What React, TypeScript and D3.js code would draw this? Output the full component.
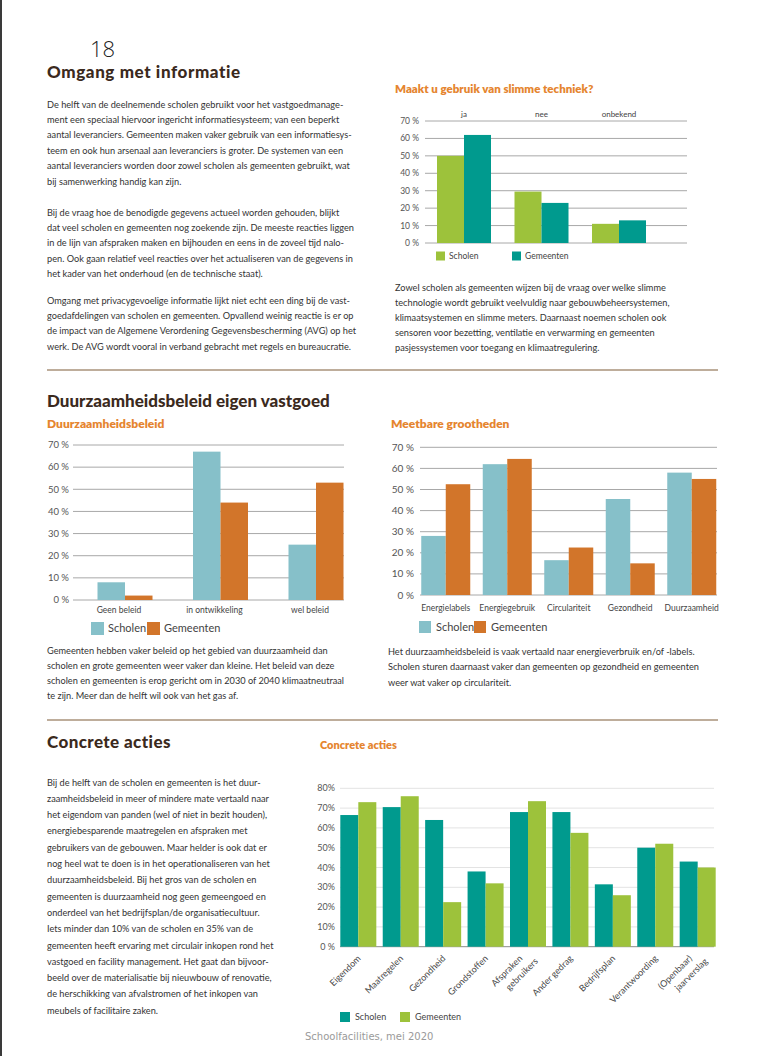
import React from 'react';
import * as d3 from 'd3';

// ---------- DATA ----------
const C1_CATS = ['ja', 'nee', 'onbekend'];
const C1_SCHOLEN = [50, 29.5, 11];
const C1_GEMEENTEN = [62, 23, 13];
const C1_TICKS = [0, 10, 20, 30, 40, 50, 60, 70];

const C2_CATS = ['Geen beleid', 'in ontwikkeling', 'wel beleid'];
const C2_SCHOLEN = [8, 67, 25];
const C2_GEMEENTEN = [2, 44, 53];
const C2_TICKS = [0, 10, 20, 30, 40, 50, 60, 70];

const C3_CATS = ['Energielabels', 'Energiegebruik', 'Circulariteit', 'Gezondheid', 'Duurzaamheid'];
const C3_SCHOLEN = [28, 62, 16.5, 45.5, 58];
const C3_GEMEENTEN = [52.5, 64.5, 22.5, 15, 55];
const C3_TICKS = [0, 10, 20, 30, 40, 50, 60, 70];

const C4_CATS = [['Eigendom'], ['Maatregelen'], ['Gezondheid'], ['Grondstoffen'], ['Afspraken', 'gebruikers'], ['Ander gedrag'], ['Bedrijfsplan'], ['Verantwoording'], ['(Openbaar)', 'jaarverslag']];
const C4_SCHOLEN = [66.5, 70.5, 64, 38, 68, 68, 31.5, 50, 43];
const C4_GEMEENTEN = [73, 76, 22.5, 32, 73.5, 57.5, 26, 52, 40];
const C4_TICKS = [0, 10, 20, 30, 40, 50, 60, 70, 80];
const C4_TICK_LABELS = ['0 %', '10%', '20%', '30%', '40%', '50%', '60%', '70%', '80%'];

const SERIES = ['Scholen', 'Gemeenten'];

const P1 = [
  'De helft van de deelnemende scholen gebruikt voor het vastgoedmanage-',
  'ment een speciaal hiervoor ingericht informatiesysteem; van een beperkt',
  'aantal leveranciers. Gemeenten maken vaker gebruik van een informatiesys-',
  'teem en ook hun arsenaal aan leveranciers is groter. De systemen van een',
  'aantal leveranciers worden door zowel scholen als gemeenten gebruikt, wat',
  'bij samenwerking handig kan zijn.',
];
const P2 = [
  'Bij de vraag hoe de benodigde gegevens actueel worden gehouden, blijkt',
  'dat veel scholen en gemeenten nog zoekende zijn. De meeste reacties liggen',
  'in de lijn van afspraken maken en bijhouden en eens in de zoveel tijd nalo-',
  'pen. Ook gaan relatief veel reacties over het actualiseren van de gegevens in',
  'het kader van het onderhoud (en de technische staat).',
];
const P3 = [
  'Omgang met privacygevoelige informatie lijkt niet echt een ding bij de vast-',
  'goedafdelingen van scholen en gemeenten. Opvallend weinig reactie is er op',
  'de impact van de Algemene Verordening Gegevensbescherming (AVG) op het',
  'werk. De AVG wordt vooral in verband gebracht met regels en bureaucratie.',
];
const P4 = [
  'Zowel scholen als gemeenten wijzen bij de vraag over welke slimme',
  'technologie wordt gebruikt veelvuldig naar gebouwbeheersystemen,',
  'klimaatsystemen en slimme meters. Daarnaast noemen scholen ook',
  'sensoren voor bezetting, ventilatie en verwarming en gemeenten',
  'pasjessystemen voor toegang en klimaatregulering.',
];
const P5 = [
  'Gemeenten hebben vaker beleid op het gebied van duurzaamheid dan',
  'scholen en grote gemeenten weer vaker dan kleine. Het beleid van deze',
  'scholen en gemeenten is erop gericht om in 2030 of 2040 klimaatneutraal',
  'te zijn. Meer dan de helft wil ook van het gas af.',
];
const P6 = [
  'Het duurzaamheidsbeleid is vaak vertaald naar energieverbruik en/of -labels.',
  'Scholen sturen daarnaast vaker dan gemeenten op gezondheid en gemeenten',
  'weer wat vaker op circulariteit.',
];
const P7 = [
  'Bij de helft van de scholen en gemeenten is het duur-',
  'zaamheidsbeleid in meer of mindere mate vertaald naar',
  'het eigendom van panden (wel of niet in bezit houden),',
  'energiebesparende maatregelen en afspraken met',
  'gebruikers van de gebouwen. Maar helder is ook dat er',
  'nog heel wat te doen is in het operationaliseren van het',
  'duurzaamheidsbeleid. Bij het gros van de scholen en',
  'gemeenten is duurzaamheid nog geen gemeengoed en',
  'onderdeel van het bedrijfsplan/de organisatiecultuur.',
  'Iets minder dan 10% van de scholen en 35% van de',
  'gemeenten heeft ervaring met circulair inkopen rond het',
  'vastgoed en facility management. Het gaat dan bijvoor-',
  'beeld over de materialisatie bij nieuwbouw of renovatie,',
  'de herschikking van afvalstromen of het inkopen van',
  'meubels of facilitaire zaken.',
];

// ---------- STYLE ----------
const BODY_FONT = 'Lato, "Open Sans", sans-serif';
const HEAD_FONT = 'Lato, "Open Sans", sans-serif';
const TEXT_COL = '#333';
const ORANGE_TITLE = '#e5852f';
const HEAD_COL = '#3b2a1d';
const LIME = '#9dc23b';
const TEAL = '#009a8e';
const LTEAL = '#86c0c9';
const ORANGE = '#d2752a';

function Para({ lines, x, y, lh, size = 9.2 }: { lines: string[]; x: number; y: number; lh: number; size?: number }) {
  return (
    <text fontFamily={BODY_FONT} fontSize={size} fill={TEXT_COL}>
      {lines.map((l, i) => (
        <tspan key={i} x={x} y={y + i * lh}>{l}</tspan>
      ))}
    </text>
  );
}

type ChartProps = {
  cats: string[];
  a: number[];
  b: number[];
  colA: string;
  colB: string;
  bandRange: [number, number];
  barW: number;
  yMax: number;
  yRange: [number, number];
  gridX: [number, number];
  ticks: number[];
  tickLabels: string[];
  tickX: number;
  tickSize: number;
  gridCol: string;
  baseCol: string;
};

function Bars(p: ChartProps) {
  const x = d3.scaleBand<string>().domain(p.cats).range(p.bandRange).paddingInner(0).paddingOuter(0);
  const y = d3.scaleLinear().domain([0, p.yMax]).range(p.yRange);
  const half = x.step() / 2;
  return (
    <g>
      {p.ticks.map((t, i) => (
        <g key={t}>
          <line x1={p.gridX[0]} x2={p.gridX[1]} y1={y(t)} y2={y(t)} stroke={t === 0 ? p.baseCol : p.gridCol} strokeWidth={1} />
          <text x={p.tickX} y={y(t) + p.tickSize * 0.35} textAnchor="end" fontFamily={BODY_FONT} fontSize={p.tickSize} fill="#555">{p.tickLabels[i]}</text>
        </g>
      ))}
      {p.cats.map((c, i) => {
        const cx = (x(c) as number) + half;
        return (
          <g key={c}>
            <rect x={cx - p.barW} y={y(p.a[i])} width={p.barW} height={y(0) - y(p.a[i])} fill={p.colA} />
            <rect x={cx} y={y(p.b[i])} width={p.barW} height={y(0) - y(p.b[i])} fill={p.colB} />
          </g>
        );
      })}
    </g>
  );
}

function Legend({ x1, x2, y, sq, size, colA, colB, gap }: { x1: number; x2: number; y: number; sq: number; size: number; colA: string; colB: string; gap: number }) {
  return (
    <g fontFamily={BODY_FONT} fontSize={size} fill="#444">
      <rect x={x1} y={y} width={sq} height={sq} fill={colA} />
      <text x={x1 + sq + gap} y={y + sq / 2 + size * 0.35}>{SERIES[0]}</text>
      <rect x={x2} y={y} width={sq} height={sq} fill={colB} />
      <text x={x2 + sq + gap} y={y + sq / 2 + size * 0.35}>{SERIES[1]}</text>
    </g>
  );
}

function pct(t: number) {
  return `${t} %`;
}

export default function App() {
  const x1 = d3.scaleBand<string>().domain(C1_CATS).range([425.25, 657.75]);
  const x2 = d3.scaleBand<string>().domain(C2_CATS).range([77.25, 363.75]);
  const x3 = d3.scaleBand<string>().domain(C3_CATS).range([415, 722.5]);
  const c4keys = C4_CATS.map((c) => c.join(' '));
  const x4 = d3.scaleBand<string>().domain(c4keys).range([337.1, 718.9]);

  return (
    <svg width={757} height={1056} style={{ position: 'absolute', left: 0, top: 0, background: '#fff' }}>
      <rect x={0} y={0} width={757} height={1056} fill="#fff" />
      <rect x={0} y={0} width={2} height={1056} fill="#3a3a3a" />

      {/* Page number */}
      <text x={90} y={57} fontFamily='"Open Sans", sans-serif' fontWeight={300} fontSize={22} fill="#222">18</text>

      {/* Section 1 */}
      <text x={47} y={78} fontFamily={HEAD_FONT} fontWeight={900} fontSize={17} letterSpacing={0.6} fill={HEAD_COL}>Omgang met informatie</text>
      <Para lines={P1} x={47} y={107.5} lh={15.4} />
      <Para lines={P2} x={47} y={215.5} lh={15.4} />
      <Para lines={P3} x={47} y={303.5} lh={15.4} />

      <text x={395} y={93} fontFamily={HEAD_FONT} fontWeight={800} fontSize={11.5} fill={ORANGE_TITLE}>Maakt u gebruik van slimme techniek?</text>
      <Bars cats={C1_CATS} a={C1_SCHOLEN} b={C1_GEMEENTEN} colA={LIME} colB={TEAL} bandRange={[425.25, 657.75]} barW={27}
        yMax={70} yRange={[243, 121]} gridX={[425, 687]} ticks={C1_TICKS} tickLabels={C1_TICKS.map(pct)} tickX={419} tickSize={8.5}
        gridCol="#a8a8a8" baseCol="#a8a8a8" />
      {C1_CATS.map((c) => (
        <text key={c} x={(x1(c) as number) + x1.step() / 2} y={116.5} textAnchor="middle" fontFamily={BODY_FONT} fontSize={8} fill="#444">{c}</text>
      ))}
      <Legend x1={436} x2={512} y={251.5} sq={9} size={8.5} colA={LIME} colB={TEAL} gap={4} />
      <Para lines={P4} x={395} y={290.5} lh={15.2} />

      <line x1={47} x2={718} y1={370} y2={370} stroke="#a8927a" strokeWidth={1.5} />

      {/* Section 2 */}
      <text x={47} y={407} fontFamily={HEAD_FONT} fontWeight={900} fontSize={17} fill={HEAD_COL}>Duurzaamheidsbeleid eigen vastgoed</text>
      <text x={47} y={427.5} fontFamily={HEAD_FONT} fontWeight={800} fontSize={12} fill={ORANGE_TITLE}>Duurzaamheidsbeleid</text>
      <text x={391} y={427.5} fontFamily={HEAD_FONT} fontWeight={800} fontSize={12} fill={ORANGE_TITLE}>Meetbare grootheden</text>

      <Bars cats={C2_CATS} a={C2_SCHOLEN} b={C2_GEMEENTEN} colA={LTEAL} colB={ORANGE} bandRange={[77.25, 363.75]} barW={27.5}
        yMax={70} yRange={[600, 445]} gridX={[73, 344]} ticks={C2_TICKS} tickLabels={C2_TICKS.map(pct)} tickX={69} tickSize={9.5}
        gridCol="#a8a8a8" baseCol="#a8a8a8" />
      {C2_CATS.map((c) => (
        <text key={c} x={(x2(c) as number) + x2.step() / 2 - 6} y={612.5} textAnchor="middle" fontFamily={BODY_FONT} fontSize={8.5} fill="#444">{c}</text>
      ))}
      <Legend x1={91} x2={147} y={622} sq={13} size={11} colA={LTEAL} colB={ORANGE} gap={4} />
      <Para lines={P5} x={47} y={653.5} lh={15.3} />

      <Bars cats={C3_CATS} a={C3_SCHOLEN} b={C3_GEMEENTEN} colA={LTEAL} colB={ORANGE} bandRange={[415, 722.5]} barW={24.5}
        yMax={70} yRange={[595, 447.3]} gridX={[420, 717]} ticks={C3_TICKS} tickLabels={C3_TICKS.map(pct)} tickX={414} tickSize={10}
        gridCol="#a8a8a8" baseCol="#a8a8a8" />
      {C3_CATS.map((c) => (
        <text key={c} x={(x3(c) as number) + x3.step() / 2} y={611} textAnchor="middle" fontFamily={BODY_FONT} fontSize={8.5} fill="#444">{c}</text>
      ))}
      <Legend x1={419} x2={474} y={621} sq={12} size={11} colA={LTEAL} colB={ORANGE} gap={5} />
      <Para lines={P6} x={388} y={655} lh={15.3} />

      <line x1={47} x2={718} y1={720} y2={720} stroke="#a8927a" strokeWidth={1.5} />

      {/* Section 3 */}
      <text x={47} y={748} fontFamily={HEAD_FONT} fontWeight={900} fontSize={17} letterSpacing={0.4} fill={HEAD_COL}>Concrete acties</text>
      <Para lines={P7} x={47} y={785.5} lh={16.3} />

      <text x={320} y={749} fontFamily={HEAD_FONT} fontWeight={800} fontSize={11} fill={ORANGE_TITLE}>Concrete acties</text>
      <Bars cats={c4keys} a={C4_SCHOLEN} b={C4_GEMEENTEN} colA={TEAL} colB={LIME} bandRange={[337.1, 718.9]} barW={18}
        yMax={80} yRange={[946.7, 788.3]} gridX={[340, 714]} ticks={C4_TICKS} tickLabels={C4_TICK_LABELS} tickX={335} tickSize={9}
        gridCol="#e3e3e3" baseCol="#8a8a8a" />
      {C4_CATS.map((c, i) => {
        const cx = (x4(c4keys[i]) as number) + x4.step() / 2;
        const two = c.length > 1;
        return (
          <g key={c4keys[i]} transform={`translate(${cx + (two ? -5 : 3)},${959}) rotate(-45)`}>
            {c.map((l, j) => (
              <text key={j} x={j * 9} y={j * 13} textAnchor="end" fontFamily={BODY_FONT} fontSize={9} fill="#444">{l}</text>
            ))}
          </g>
        );
      })}
      <Legend x1={340} x2={400} y={1012} sq={10} size={9} colA={TEAL} colB={LIME} gap={5} />

      <text x={305} y={1040} fontFamily='"DejaVu Sans", sans-serif' fontSize={10} fill="#9a9a9a">Schoolfacilities, mei 2020</text>
    </svg>
  );
}
